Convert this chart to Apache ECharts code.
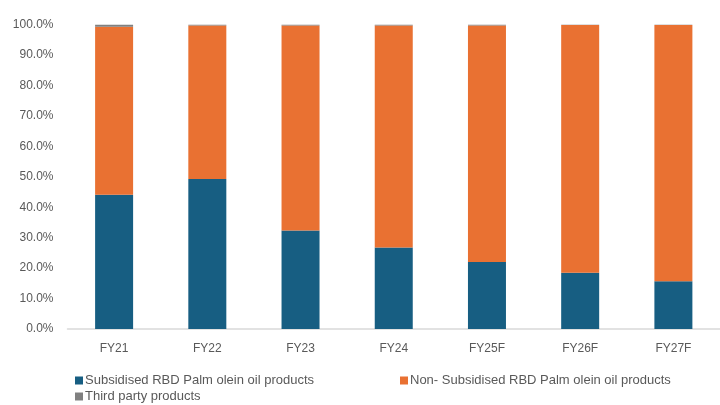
<!DOCTYPE html>
<html><head><meta charset="utf-8">
<script src="https://cdn.jsdelivr.net/npm/echarts@6/dist/echarts.min.js"></script>
<style>html,body{margin:0;padding:0;background:#fff}#c{width:720px;height:405px}</style>
</head><body><div id="c"></div>
<script>
const categories = ['FY21','FY22','FY23','FY24','FY25F','FY26F','FY27F'];
const subsidised = [44.1, 49.3, 32.4, 26.8, 22.0, 18.5, 15.7];
const thirdParty = [0.7, 0.3, 0.3, 0.3, 0.3, 0.1, 0.1];
const nonSubsidised = subsidised.map((v, i) => +(100 - v - thirdParty[i]).toFixed(1));
const yTicks = [0,10,20,30,40,50,60,70,80,90,100];
const seriesNames = ['Subsidised RBD Palm olein oil products','Non- Subsidised RBD Palm olein oil products','Third party products'];
const colors = ['#175E82','#E97132','#808080'];

const chart = echarts.init(document.getElementById('c'), null, {renderer:'canvas'});
const textStyle = {color:'#595959', fontSize:12, fontFamily:'Liberation Sans, Arial, sans-serif'};
const legendText = {color:'#595959', fontSize:13, fontFamily:'Liberation Sans, Arial, sans-serif', padding:[0,0,0,-3]};
const legendBase = {orient:'horizontal', itemWidth:8, itemHeight:8, icon:'rect', itemGap:0, textStyle:legendText};
chart.setOption({
  animation:false,
  color: colors,
  grid:{left:67.5, right:-5, top:24.7, height:304.3},
  legend:[
    Object.assign({}, legendBase, {left:70, top:369, data:[seriesNames[0]]}),
    Object.assign({}, legendBase, {left:395, top:369, data:[seriesNames[1]]}),
    Object.assign({}, legendBase, {left:70, top:385, data:[seriesNames[2]]})
  ],
  xAxis:{type:'category', data:categories,
    axisLine:{lineStyle:{color:'#D9D9D9', width:1.5}}, axisTick:{show:false},
    axisLabel:Object.assign({margin:14}, textStyle)},
  yAxis:{type:'value', min:0, max:100, interval:10,
    splitLine:{show:false}, axisLine:{show:false}, axisTick:{show:false},
    axisLabel:Object.assign({margin:14, formatter:v => v.toFixed(1)+'%'}, textStyle)},
  series:[
    {name:seriesNames[0], type:'bar', stack:'a', barWidth:38, data:subsidised},
    {name:seriesNames[1], type:'bar', stack:'a', barWidth:38, data:nonSubsidised},
    {name:seriesNames[2], type:'bar', stack:'a', barWidth:38, data:thirdParty}
  ]
});
</script></body></html>
